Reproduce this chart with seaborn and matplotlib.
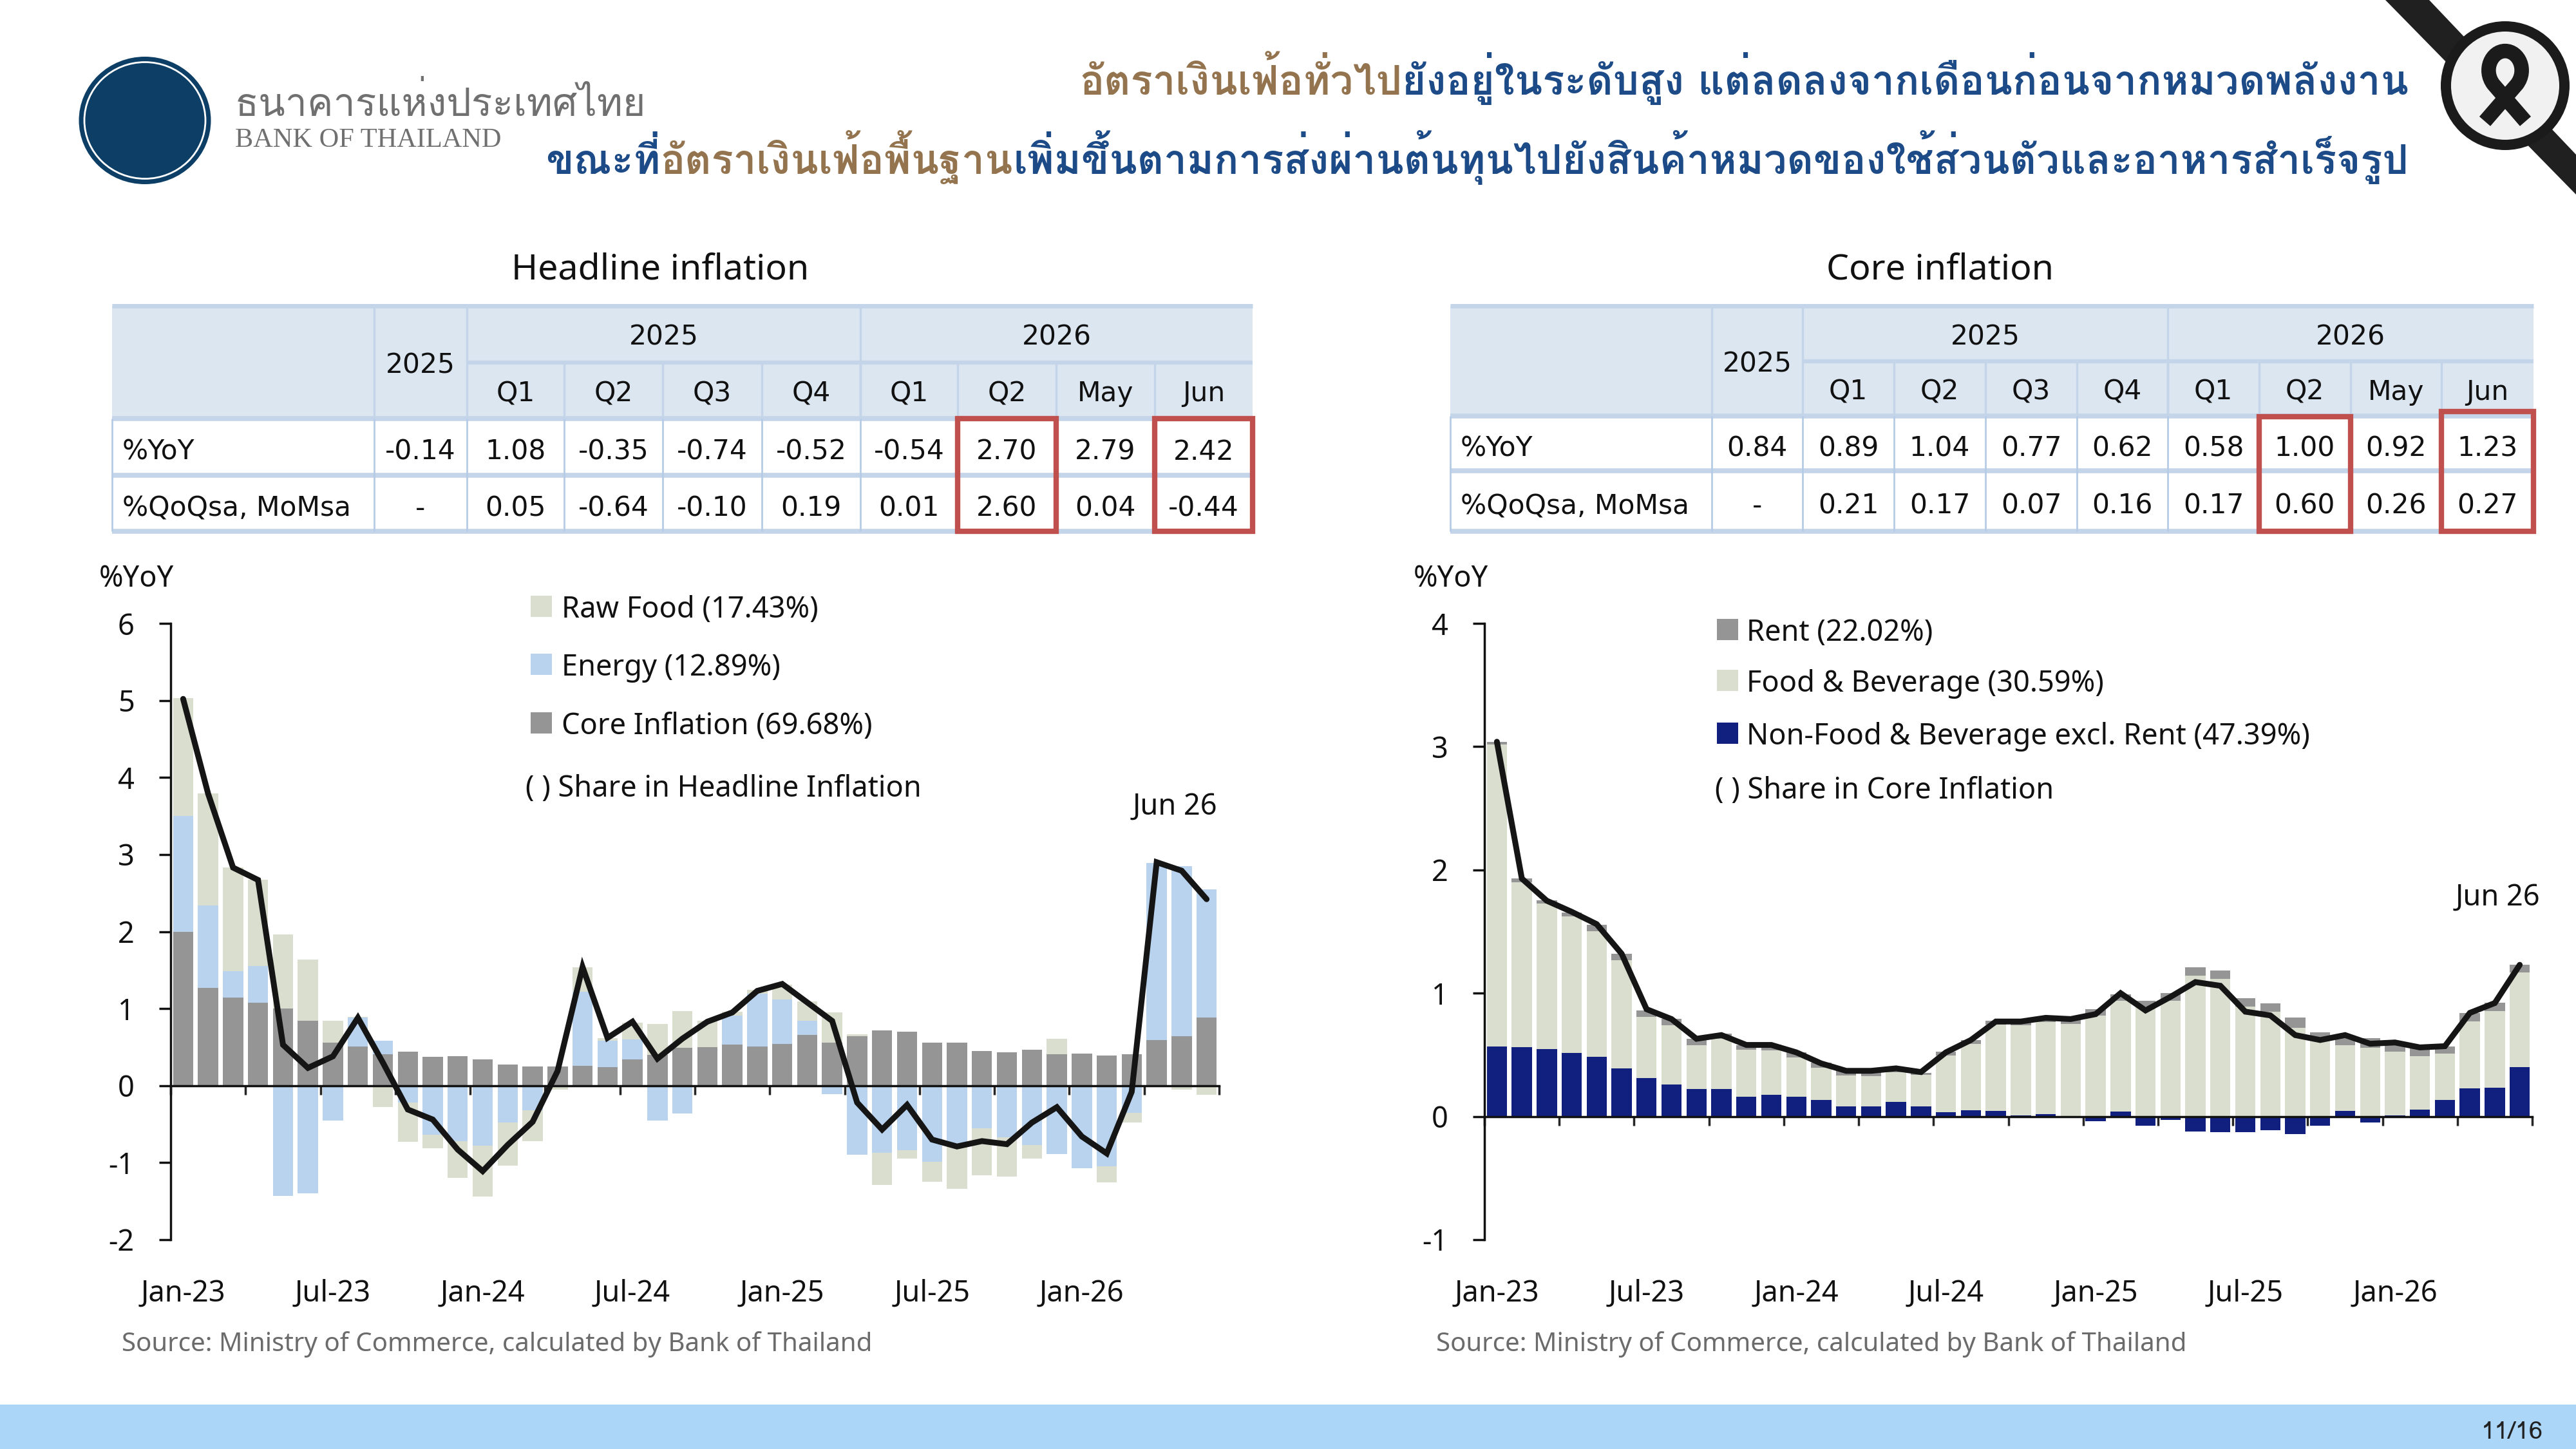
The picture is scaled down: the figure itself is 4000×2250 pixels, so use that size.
import numpy as np
import matplotlib
matplotlib.use("Agg")
import matplotlib.pyplot as plt
import matplotlib.transforms as mtransforms
import seaborn as sns
from matplotlib import font_manager as fm
from matplotlib.ft2font import FT2Font
from matplotlib.patches import Rectangle, Ellipse, Circle, Polygon, PathPatch
from matplotlib.path import Path

# ---------------- data ----------------
MON = ["Jan", "Feb", "Mar", "Apr", "May", "Jun", "Jul", "Aug", "Sep", "Oct", "Nov", "Dec"]
months = [f"{m}-{y}" for y in ("23", "24", "25", "26") for m in MON][:42]
label_months = ["Jan-23", "Jul-23", "Jan-24", "Jul-24", "Jan-25", "Jul-25", "Jan-26"]

# Headline inflation contributions (%YoY, ppt)
hl_core = [2.00, 1.27, 1.14, 1.08, 1.00, 0.84, 0.56, 0.51, 0.41, 0.44, 0.37, 0.38,
           0.34, 0.27, 0.25, 0.25, 0.26, 0.24, 0.34, 0.40, 0.49, 0.50, 0.53, 0.51,
           0.54, 0.66, 0.56, 0.64, 0.72, 0.70, 0.56, 0.56, 0.45, 0.43, 0.47, 0.41,
           0.42, 0.39, 0.41, 0.59, 0.64, 0.88]
hl_energy = [1.50, 1.07, 0.35, 0.47, -1.43, -1.40, -0.45, 0.37, 0.17, -0.22, -0.64, -0.72,
             -0.78, -0.48, -0.32, 0.00, 0.96, 0.34, 0.26, -0.45, -0.36, 0.00, 0.38, 0.68,
             0.58, 0.18, -0.11, -0.90, -0.87, -0.84, -0.99, -0.78, -0.55, -0.67, -0.77, -0.89,
             -1.07, -1.05, -0.35, 2.30, 2.21, 1.67]
hl_rawfood = [1.53, 1.45, 1.34, 1.12, 0.96, 0.80, 0.28, 0.01, -0.28, -0.51, -0.17, -0.48,
              -0.66, -0.56, -0.40, -0.05, 0.32, 0.04, 0.22, 0.40, 0.48, 0.34, 0.05, 0.05,
              0.19, 0.25, 0.39, 0.03, -0.42, -0.11, -0.26, -0.56, -0.61, -0.51, -0.18, 0.20,
              0.00, -0.21, -0.13, 0.00, -0.05, -0.12]
hl_total = [5.02, 3.79, 2.83, 2.67, 0.53, 0.23, 0.38, 0.88, 0.30, -0.31, -0.44, -0.83,
            -1.11, -0.77, -0.47, 0.19, 1.54, 0.62, 0.83, 0.35, 0.61, 0.83, 0.95, 1.23,
            1.32, 1.08, 0.84, -0.22, -0.57, -0.25, -0.70, -0.79, -0.72, -0.76, -0.48, -0.28,
            -0.66, -0.88, -0.08, 2.90, 2.79, 2.42]

# Core inflation contributions (%YoY, ppt)
co_nonfood = [0.57, 0.56, 0.545, 0.515, 0.485, 0.39, 0.31, 0.26, 0.22, 0.22, 0.16, 0.175,
              0.16, 0.135, 0.08, 0.08, 0.12, 0.08, 0.035, 0.05, 0.045, 0.01, 0.02, 0.00,
              -0.04, 0.04, -0.075, -0.03, -0.12, -0.125, -0.125, -0.11, -0.145, -0.075, 0.045, -0.05,
              0.01, 0.055, 0.135, 0.23, 0.235, 0.40]
co_food = [2.45, 1.34, 1.18, 1.11, 1.02, 0.88, 0.50, 0.48, 0.36, 0.41, 0.38, 0.36,
           0.32, 0.26, 0.25, 0.245, 0.24, 0.255, 0.46, 0.54, 0.70, 0.73, 0.745, 0.75,
           0.82, 0.90, 0.89, 0.94, 1.14, 1.115, 0.89, 0.85, 0.72, 0.63, 0.535, 0.556,
           0.516, 0.435, 0.375, 0.54, 0.62, 0.77]
co_rent = [0.02, 0.03, 0.03, 0.03, 0.05, 0.05, 0.05, 0.05, 0.05, 0.04, 0.04, 0.05,
           0.04, 0.04, 0.04, 0.045, 0.025, 0.02, 0.03, 0.03, 0.03, 0.03, 0.025, 0.04,
           0.05, 0.05, 0.05, 0.06, 0.07, 0.07, 0.07, 0.07, 0.08, 0.05, 0.055, 0.08,
           0.06, 0.07, 0.06, 0.07, 0.07, 0.06]
co_total = [3.04, 1.93, 1.75, 1.66, 1.56, 1.32, 0.87, 0.79, 0.63, 0.66, 0.58, 0.58,
            0.52, 0.43, 0.37, 0.37, 0.39, 0.36, 0.52, 0.62, 0.77, 0.77, 0.80, 0.79,
            0.83, 1.00, 0.86, 0.97, 1.09, 1.06, 0.85, 0.82, 0.66, 0.62, 0.66, 0.59,
            0.60, 0.56, 0.57, 0.84, 0.92, 1.23]

# Tables
tbl_groups = ["2025", "2026"]
tbl_annual = "2025"
tbl_sub = ["Q1", "Q2", "Q3", "Q4", "Q1", "Q2", "May", "Jun"]
tbl_rows = ["%YoY", "%QoQsa, MoMsa"]
hl_tbl_yoy = ["-0.14", "1.08", "-0.35", "-0.74", "-0.52", "-0.54", "2.70", "2.79", "2.42"]
hl_tbl_qoq = ["-", "0.05", "-0.64", "-0.10", "0.19", "0.01", "2.60", "0.04", "-0.44"]
co_tbl_yoy = ["0.84", "0.89", "1.04", "0.77", "0.62", "0.58", "1.00", "0.92", "1.23"]
co_tbl_qoq = ["-", "0.21", "0.17", "0.07", "0.16", "0.17", "0.60", "0.26", "0.27"]

hl_legend = ["Raw Food (17.43%)", "Energy (12.89%)", "Core Inflation (69.68%)"]
co_legend = ["Rent (22.02%)", "Food & Beverage (30.59%)", "Non-Food & Beverage excl. Rent (47.39%)"]

title1 = [("อัตราเงินเฟ้อทั่วไป", "brown"),
          ("ยังอยู่ในระดับสูง แต่ลดลงจากเดือนก่อนจากหมวดพลังงาน", "blue")]
title2 = [("ขณะที่", "blue"), ("อัตราเงินเฟ้อพื้นฐาน", "brown"),
          ("เพิ่มขึ้นตามการส่งผ่านต้นทุนไปยังสินค้าหมวดของใช้ส่วนตัวและอาหารสำเร็จรูป", "blue")]

# ---------------- style ----------------
sns.set_theme(style="white")
LATIN = "Noto Sans"
plt.rcParams["font.family"] = [LATIN, "DejaVu Sans"]


def family_with(ch):
    for f in fm.fontManager.ttflist:
        try:
            if ord(ch) in FT2Font(f.fname).get_charmap():
                return f.name
        except Exception:
            continue
    return None


THAI = family_with("ก") or "DejaVu Sans"
THAI_FAM = [THAI, "DejaVu Sans"]

C_GRAY = "#959595"
C_ENERGY = "#B9D3EE"
C_BEIGE = "#D9DECF"
C_NAVY = "#11207E"
C_LINE = "#151515"
C_BROWN = "#94744F"
C_BLUE = "#1D4B87"
C_RED = "#C0504D"
HEAD_BG = "#DCE6F1"
GRID = "#C4D5EA"
DY = 6  # vertical nudge for centred Latin text

W, H = 4000, 2250
fig = plt.figure(figsize=(16, 9), dpi=250)
bg = fig.add_axes([0, 0, 1, 1])
bg.set_xlim(0, W)
bg.set_ylim(H, 0)
bg.axis("off")
bg.set_zorder(0)

# ---------------- header ----------------
bg.add_patch(Ellipse((225, 187), 205, 198, fc="#0D3F66", ec="none"))
bg.add_patch(Ellipse((225, 187), 188, 181, fc="none", ec="white", lw=0.8))
bg.text(365, 180, "ธนาคารแห่งประเทศไทย", family=THAI_FAM, fontsize=17.5, color="#707070",
        ha="left", va="baseline")
bg.text(365, 228, "BANK OF THAILAND", family=["Liberation Serif", "DejaVu Serif"], fontsize=12.2,
        color="#707070", ha="left", va="baseline")

# mourning ribbon corner
bg.add_patch(Polygon([(3704, 0), (3772, 0), (4000, 240), (4000, 302)], closed=True,
                     fc="#202020", ec="none"))
bg.add_patch(Circle((3890, 133), 100, fc="#1b1b1b", ec="none"))
bg.add_patch(Circle((3890, 133), 84, fc="#F1F1F1", ec="none"))
s, cx, cy = 70, 3890, 138
pts = [(-0.45, -0.72), (0.26, 0.10), (0.5, 0.42), (0.3, 0.84), (0.0, 0.84),
       (-0.3, 0.84), (-0.5, 0.42), (-0.26, 0.10), (0.45, -0.72)]
codes = [Path.MOVETO, Path.LINETO, Path.CURVE4, Path.CURVE4, Path.CURVE4,
         Path.CURVE4, Path.CURVE4, Path.CURVE4, Path.LINETO]
ribbon = Path([(cx + px * s, cy - py * s) for px, py in pts], codes)
bg.add_patch(PathPatch(ribbon, fc="none", ec="#1b1b1b", lw=6.5, capstyle="butt"))

# footer
bg.add_patch(Rectangle((0, 2181), W, 69, fc="#ABD6F8", ec="none"))
bg.text(3949, 2224, "11/16", fontsize=11, color="#222222", ha="right", va="center",
        family=THAI_FAM)

# ---------------- multicolour Thai title ----------------
fig.canvas.draw()
renderer = fig.canvas.get_renderer()
COL = {"brown": C_BROWN, "blue": C_BLUE}


def line_width(pieces, size):
    tot = 0
    for txt, c in pieces:
        t = bg.text(0, 0, txt, family=THAI_FAM, fontsize=size, fontweight="bold")
        tot += t.get_window_extent(renderer).width
        t.remove()
    return tot


def draw_line(pieces, right, base, size):
    xcur = right
    for txt, c in reversed(pieces):
        t = bg.text(xcur, base, txt, family=THAI_FAM, fontsize=size, fontweight="bold",
                    color=COL[c], ha="right", va="baseline")
        xcur -= t.get_window_extent(renderer).width


tsize = 24 * (3740 - 847) / line_width(title2, 24)
draw_line(title1, 3740, 147, tsize)
draw_line(title2, 3740, 270, tsize)

# ---------------- section titles ----------------
bg.text(1025, 413 + DY, "Headline inflation", fontsize=16, ha="center", va="center", color="#111111")
bg.text(3013, 413 + DY, "Core inflation", fontsize=16, ha="center", va="center", color="#111111")


# ---------------- tables ----------------
def seg(xs, ys, lw, c, z=2):
    bg.plot(xs, ys, color=c, lw=lw, solid_capstyle="butt", zorder=z)


def draw_table(x, y, yoy, qoq, red_tops):
    bg.add_patch(Rectangle((x[0], y[0]), x[-1] - x[0], y[2] - y[0], fc=HEAD_BG, ec="none", zorder=1))
    seg([x[0], x[-1]], [y[0], y[0]], 2.0, GRID)
    for xi in (x[1], x[2], x[6]):
        seg([xi, xi], [y[0], y[2]], 1.0, GRID)
    seg([x[2], x[-1]], [y[1], y[1]], 1.8, GRID)
    for xi in x[3:10]:
        seg([xi, xi], [y[1], y[2]], 1.0, GRID)
    for yi in y[2:5]:
        seg([x[0], x[-1]], [yi, yi], 2.2, GRID)
    for xi in x:
        seg([xi, xi], [y[2], y[4]], 0.8, "#B6CCE6")
    tk = dict(fontsize=12.2, color="#111111", va="center", family="DejaVu Sans", zorder=3)
    d = 5
    bg.text((x[1] + x[2]) / 2, (y[0] + y[2]) / 2 + d, tbl_annual, ha="center", **tk)
    bg.text((x[2] + x[6]) / 2, (y[0] + y[1]) / 2 + d, tbl_groups[0], ha="center", **tk)
    bg.text((x[6] + x[10]) / 2, (y[0] + y[1]) / 2 + d, tbl_groups[1], ha="center", **tk)
    for i, lab in enumerate(tbl_sub):
        bg.text((x[2 + i] + x[3 + i]) / 2, (y[1] + y[2]) / 2 + d, lab, ha="center", **tk)
    for r, (lab, vals) in enumerate(zip(tbl_rows, (yoy, qoq))):
        yc = (y[2 + r] + y[3 + r]) / 2 + d + 3
        bg.text(x[0] + 16, yc, lab, ha="left", **tk)
        for i, v in enumerate(vals):
            bg.text((x[1 + i] + x[2 + i]) / 2, yc, v, ha="center", **tk)
    for col, top in zip((7, 9), red_tops):
        bg.add_patch(Rectangle((x[col], top), x[col + 1] - x[col], y[4] - top, fc="none",
                               ec=C_RED, lw=2.4, zorder=4))


draw_table([174, 581, 725, 876, 1029, 1183, 1336, 1487, 1640, 1793, 1945],
           [475, 563, 650, 738, 825], hl_tbl_yoy, hl_tbl_qoq, (650, 650))
draw_table([2252, 2658, 2799, 2941, 3083, 3225, 3366, 3508, 3650, 3791, 3934],
           [475, 561, 646, 731, 825], co_tbl_yoy, co_tbl_qoq, (647, 639))

# ---------------- charts ----------------
idx = np.arange(len(months))


def stacked(ax, comps, colors):
    arr = np.array(comps, dtype=float)
    pos = np.clip(arr, 0, None).cumsum(axis=0)
    neg = np.clip(arr, None, 0).cumsum(axis=0)
    for i in reversed(range(len(comps))):
        for vals in (pos[i], neg[i]):
            sns.barplot(x=idx, y=vals, color=colors[i], native_scale=True, orient="x",
                        width=0.81, saturation=1, errorbar=None, linewidth=0, ax=ax, zorder=1)


def style_axis(ax, ylim, yticks):
    ax.set_facecolor("none")
    ax.set_xlim(-0.5, len(months) - 0.5)
    ax.set_ylim(*ylim)
    ax.set_yticks(yticks)
    ax.set_yticklabels([str(v) for v in yticks])
    ax.set_xticks(np.arange(-0.5, len(months), 3))
    ax.set_xticklabels([])
    for sp in ("top", "right"):
        ax.spines[sp].set_visible(False)
    ax.spines["bottom"].set_position(("data", 0))
    for sp in ("left", "bottom"):
        ax.spines[sp].set_color("#111111")
        ax.spines[sp].set_linewidth(1.0)
        ax.spines[sp].set_zorder(5)
    ax.tick_params(axis="y", direction="out", length=5.2, width=1.0, pad=11,
                   labelsize=13, colors="#111111", left=True)
    ax.tick_params(axis="x", direction="out", length=4, width=1.0, bottom=True)
    ax.set_xlabel("")
    ax.set_ylabel("")
    tr = mtransforms.blended_transform_factory(ax.transData, bg.transData)
    for lab in label_months:
        bg.text(months.index(lab), 2003 + DY, lab, transform=tr, ha="center", va="center",
                fontsize=13, color="#111111")


ax1 = fig.add_axes([265 / W, 1 - 1925 / H, 1628 / W, 957 / H])
stacked(ax1, [hl_core, hl_energy, hl_rawfood], [C_GRAY, C_ENERGY, C_BEIGE])
sns.lineplot(x=idx, y=hl_total, color=C_LINE, linewidth=2.6, ax=ax1, zorder=4,
             solid_capstyle="round", solid_joinstyle="miter")
style_axis(ax1, (-2, 6), list(range(-2, 7)))

ax2 = fig.add_axes([2305 / W, 1 - 1925 / H, 1627 / W, 957 / H])
stacked(ax2, [co_nonfood, co_food, co_rent], [C_NAVY, C_BEIGE, C_GRAY])
sns.lineplot(x=idx, y=co_total, color=C_LINE, linewidth=2.6, ax=ax2, zorder=4,
             solid_capstyle="round", solid_joinstyle="miter")
style_axis(ax2, (-1, 4), list(range(-1, 5)))

# ---------------- chart annotations ----------------
txt = dict(fontsize=13, color="#111111", va="center")
bg.text(212, 893 + DY, "%YoY", ha="center", **txt)
bg.text(2253, 893 + DY, "%YoY", ha="center", **txt)
for (lab, c), yy in zip(zip(hl_legend, [C_BEIGE, C_ENERGY, C_GRAY]), (941, 1031, 1122)):
    bg.add_patch(Rectangle((824, yy - 16), 33, 33, fc=c, ec="none"))
    bg.text(872, yy + DY, lab, ha="left", **txt)
bg.text(816, 1219 + DY, "( ) Share in Headline Inflation", ha="left", **txt)
for (lab, c), yy in zip(zip(co_legend, [C_GRAY, C_BEIGE, C_NAVY]), (977, 1056, 1138)):
    bg.add_patch(Rectangle((2666, yy - 16), 33, 33, fc=c, ec="none"))
    bg.text(2712, yy + DY, lab, ha="left", **txt)
bg.text(2663, 1222 + DY, "( ) Share in Core Inflation", ha="left", **txt)
bg.text(1824, 1247 + DY, "Jun 26", ha="center", **txt)
bg.text(3878, 1388 + DY, "Jun 26", ha="center", **txt)

src = "Source: Ministry of Commerce, calculated by Bank of Thailand"
bg.text(189, 2082 + DY, src, fontsize=11.6, color="#6b6b6b", ha="left", va="center")
bg.text(2230, 2082 + DY, src, fontsize=11.6, color="#6b6b6b", ha="left", va="center")

fig.savefig("out.png", dpi=250)
